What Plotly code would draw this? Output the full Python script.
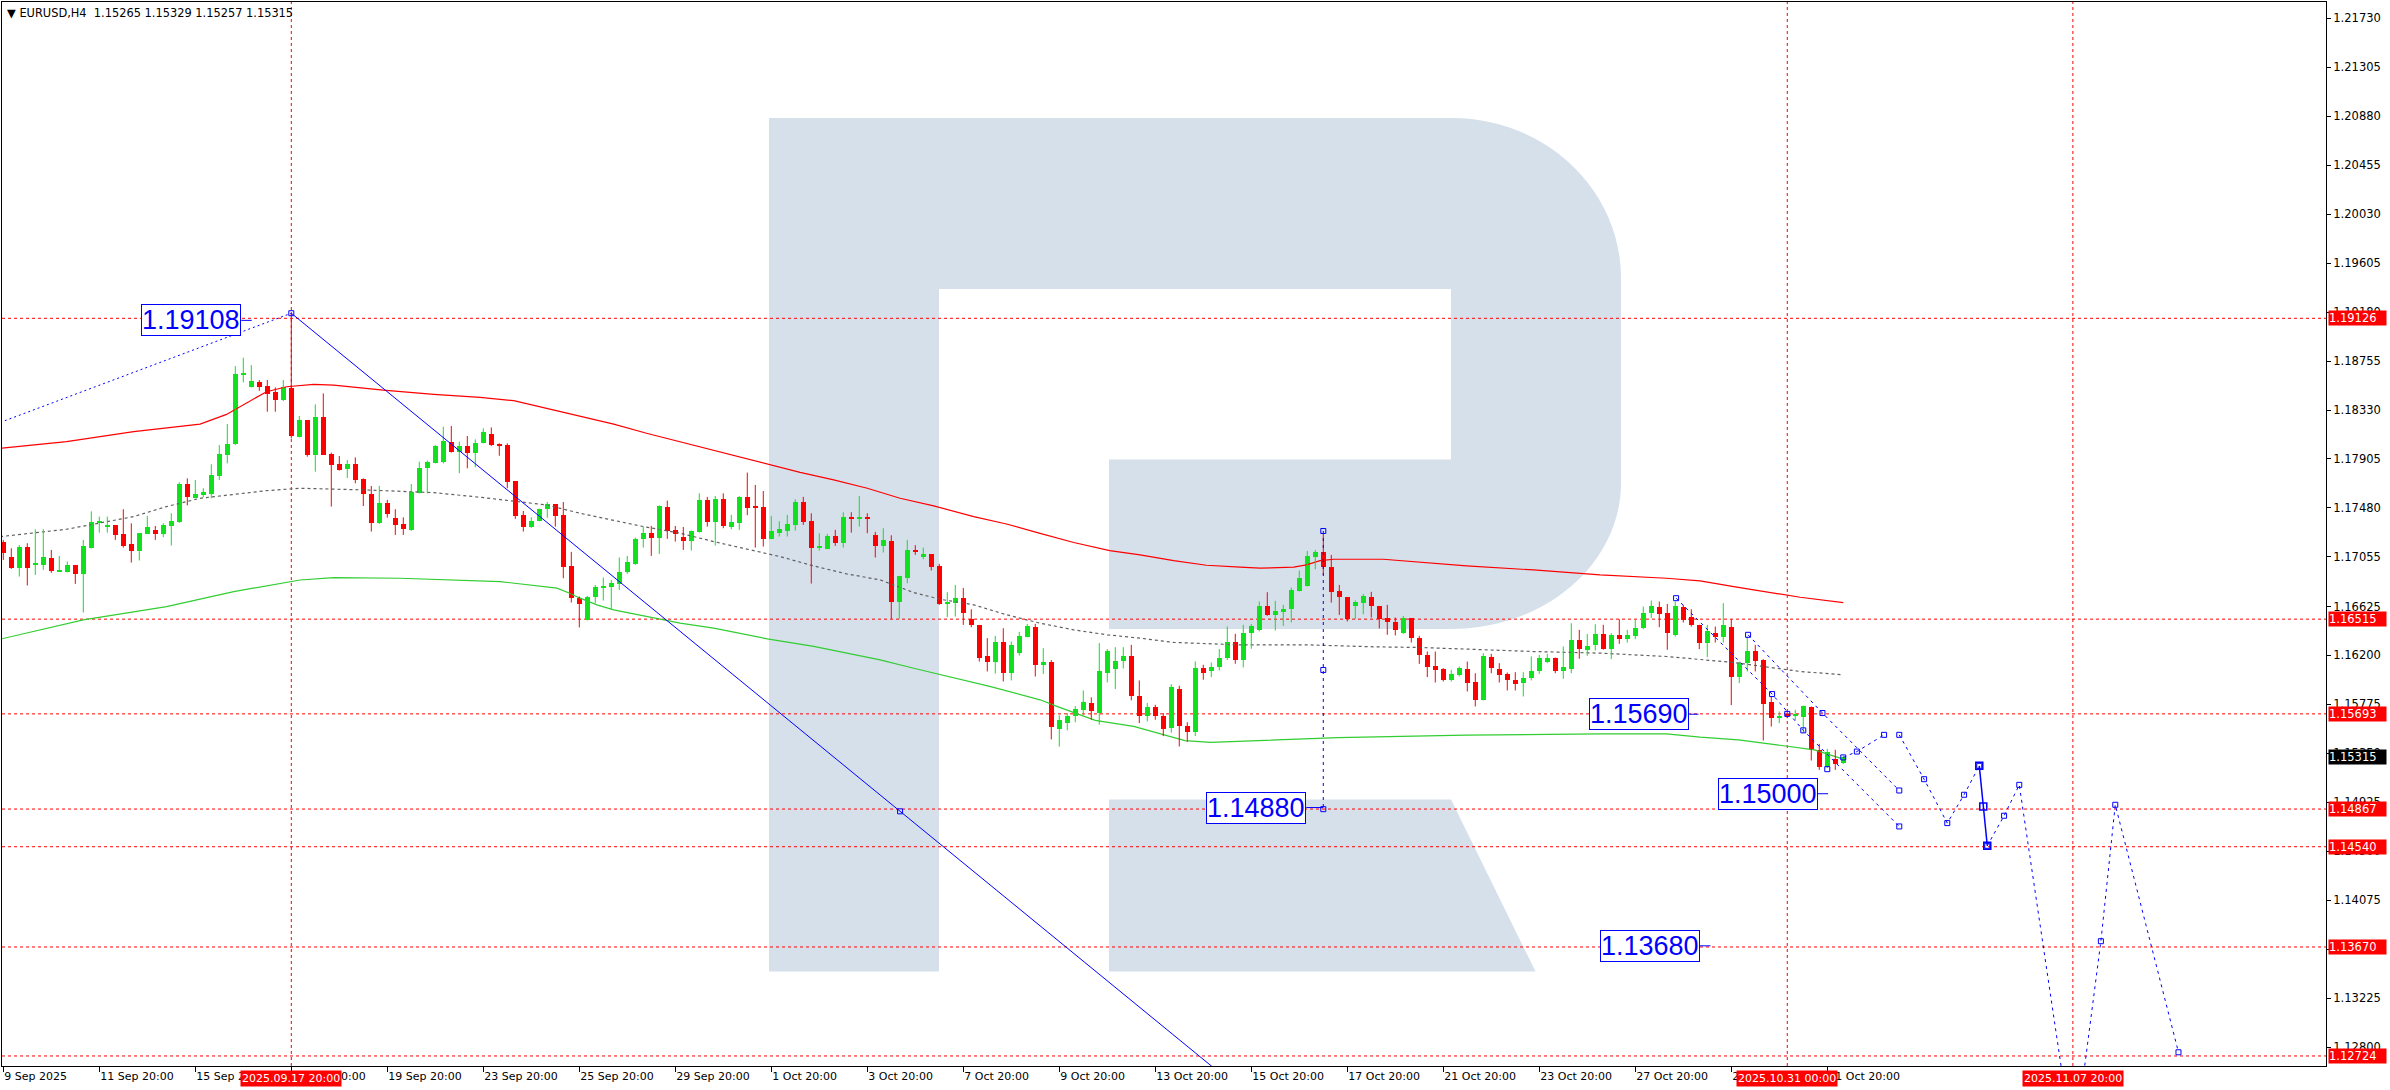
import plotly.graph_objects as go

# ---------------------------------------------------------------- data
title_text = "EURUSD,H4  1.15265 1.15329 1.15257 1.15315"

opens = [1.17182, 1.17052, 1.16963, 1.17145, 1.16983, 1.16989, 1.17046, 1.16928, 1.16925, 1.16986,
         1.16911, 1.17136, 1.17353, 1.17318, 1.17330, 1.17255, 1.17168, 1.17110, 1.17258, 1.17289,
         1.17258, 1.17327, 1.17359, 1.17688, 1.17570, 1.17596, 1.17604, 1.17761, 1.17940, 1.18035,
         1.18639, 1.18526, 1.18570, 1.18538, 1.18483, 1.18416, 1.18523, 1.18099, 1.18243, 1.17940,
         1.18266, 1.17945, 1.17859, 1.17818, 1.17859, 1.17729, 1.17602, 1.17347, 1.17521, 1.17393,
         1.17341, 1.17289, 1.17610, 1.17824, 1.17873, 1.17879, 1.18049, 1.17966, 1.18018, 1.17957,
         1.18041, 1.18125, 1.18038, 1.18026, 1.17714, 1.17417, 1.17313, 1.17370, 1.17469, 1.17515,
         1.17420, 1.16977, 1.16697, 1.16509, 1.16706, 1.16792, 1.16798, 1.16821, 1.16920, 1.16995,
         1.17209, 1.17261, 1.17223, 1.17486, 1.17290, 1.17229, 1.17197, 1.17272, 1.17550, 1.17362,
         1.17558, 1.17318, 1.17353, 1.17576, 1.17489, 1.17486, 1.17214, 1.17261, 1.17284, 1.17336,
         1.17532, 1.17365, 1.17136, 1.17128, 1.17237, 1.17174, 1.17394, 1.17388, 1.17394, 1.17243,
         1.17154, 1.17194, 1.16668, 1.16876, 1.17116, 1.17058, 1.17081, 1.16977, 1.16654, 1.16659,
         1.16699, 1.16517, 1.16465, 1.16191, 1.16139, 1.16318, 1.16046, 1.16225, 1.16364, 1.16451,
         1.16113, 1.16147, 1.15565, 1.15610, 1.15671, 1.15723, 1.15787, 1.15700, 1.16052, 1.16084,
         1.16148, 1.16197, 1.15850, 1.15677, 1.15752, 1.15671, 1.15570, 1.15911, 1.15590, 1.15540,
         1.16090, 1.16061, 1.16099, 1.16177, 1.16318, 1.16162, 1.16393, 1.16417, 1.16630, 1.16547,
         1.16581, 1.16601, 1.16763, 1.16807, 1.17058, 1.17096, 1.16966, 1.16760, 1.16705, 1.16633,
         1.16651, 1.16705, 1.16630, 1.16523, 1.16489, 1.16393, 1.16523, 1.16350, 1.16205, 1.16110,
         1.16081, 1.15983, 1.16032, 1.16081, 1.15971, 1.15815, 1.16185, 1.16081, 1.16041, 1.15989,
         1.15960, 1.16003, 1.16061, 1.16147, 1.16176, 1.16069, 1.16084, 1.16330, 1.16243, 1.16292,
         1.16385, 1.16255, 1.16376, 1.16347, 1.16370, 1.16437, 1.16567, 1.16624, 1.16567, 1.16379,
         1.16624, 1.16532, 1.16466, 1.16307, 1.16399, 1.16358, 1.16451, 1.16012, 1.16133, 1.16240,
         1.16161, 1.15794, 1.15664, 1.15693, 1.15675, 1.15670, 1.15751, 1.15381, 1.15236, 1.15303,
         1.15265]
highs = [1.17203, 1.17130, 1.17159, 1.17174, 1.17295, 1.17295, 1.17116, 1.17064, 1.17015, 1.16986,
         1.17203, 1.17451, 1.17405, 1.17405, 1.17330, 1.17469, 1.17347, 1.17260, 1.17411, 1.17324,
         1.17347, 1.17434, 1.17703, 1.17737, 1.17723, 1.17651, 1.17859, 1.18026, 1.18209, 1.18711,
         1.18784, 1.18720, 1.18590, 1.18590, 1.18526, 1.18590, 1.19179, 1.18278, 1.18243, 1.18379,
         1.18474, 1.17960, 1.17931, 1.17896, 1.17919, 1.17737, 1.17671, 1.17671, 1.17550, 1.17469,
         1.17399, 1.17688, 1.17882, 1.17891, 1.18026, 1.18185, 1.18191, 1.18055, 1.18104, 1.18075,
         1.18171, 1.18179, 1.18041, 1.18041, 1.17714, 1.17454, 1.17399, 1.17474, 1.17532, 1.17515,
         1.17532, 1.17099, 1.16712, 1.16717, 1.16812, 1.16876, 1.16856, 1.17050, 1.17064, 1.17223,
         1.17318, 1.17324, 1.17503, 1.17544, 1.17324, 1.17315, 1.17284, 1.17607, 1.17576, 1.17584,
         1.17607, 1.17420, 1.17584, 1.17787, 1.17680, 1.17627, 1.17411, 1.17365, 1.17420, 1.17555,
         1.17576, 1.17434, 1.17261, 1.17255, 1.17290, 1.17443, 1.17443, 1.17584, 1.17434, 1.17272,
         1.17304, 1.17243, 1.16891, 1.17203, 1.17157, 1.17136, 1.17081, 1.16995, 1.16749, 1.16812,
         1.16786, 1.16601, 1.16465, 1.16350, 1.16370, 1.16436, 1.16321, 1.16405, 1.16474, 1.16474,
         1.16263, 1.16160, 1.15680, 1.15700, 1.15760, 1.15896, 1.15836, 1.16307, 1.16255, 1.16272,
         1.16272, 1.16292, 1.15983, 1.15787, 1.15772, 1.15700, 1.15950, 1.15937, 1.15620, 1.16148,
         1.16119, 1.16139, 1.16255, 1.16451, 1.16388, 1.16466, 1.16474, 1.16668, 1.16749, 1.16674,
         1.16639, 1.16789, 1.16937, 1.17107, 1.17116, 1.17260, 1.17073, 1.16812, 1.16705, 1.16677,
         1.16734, 1.16752, 1.16630, 1.16639, 1.16529, 1.16543, 1.16523, 1.16370, 1.16234, 1.16234,
         1.16090, 1.16075, 1.16104, 1.16147, 1.16046, 1.16220, 1.16214, 1.16133, 1.16052, 1.16055,
         1.16055, 1.16191, 1.16205, 1.16214, 1.16182, 1.16278, 1.16480, 1.16422, 1.16387, 1.16471,
         1.16466, 1.16393, 1.16515, 1.16422, 1.16509, 1.16624, 1.16676, 1.16668, 1.16647, 1.16668,
         1.16639, 1.16601, 1.16466, 1.16466, 1.16451, 1.16653, 1.16515, 1.16147, 1.16364, 1.16292,
         1.16168, 1.15843, 1.15713, 1.15713, 1.15728, 1.15765, 1.15757, 1.15433, 1.15389, 1.15381,
         1.15329]
lows = [1.17029, 1.16951, 1.16885, 1.16807, 1.16899, 1.16943, 1.16917, 1.16925, 1.16920, 1.16821,
        1.16573, 1.17128, 1.17266, 1.17266, 1.17203, 1.17136, 1.17006, 1.17024, 1.17255, 1.17203,
        1.17226, 1.17154, 1.17350, 1.17503, 1.17564, 1.17573, 1.17564, 1.17723, 1.17867, 1.18026,
        1.18570, 1.18526, 1.18497, 1.18315, 1.18315, 1.18408, 1.18084, 1.18093, 1.17925, 1.17795,
        1.17940, 1.17492, 1.17804, 1.17740, 1.17694, 1.17497, 1.17275, 1.17341, 1.17396, 1.17246,
        1.17246, 1.17281, 1.17607, 1.17607, 1.17867, 1.17867, 1.17960, 1.17781, 1.17824, 1.17833,
        1.18041, 1.18018, 1.17933, 1.17651, 1.17385, 1.17275, 1.17307, 1.17365, 1.17394, 1.17318,
        1.16870, 1.16659, 1.16443, 1.16503, 1.16654, 1.16677, 1.16602, 1.16769, 1.16908, 1.16986,
        1.17136, 1.17064, 1.17081, 1.17212, 1.17188, 1.17116, 1.17110, 1.17266, 1.17318, 1.17154,
        1.17304, 1.17295, 1.17290, 1.17417, 1.17136, 1.17145, 1.17209, 1.17232, 1.17232, 1.17284,
        1.17333, 1.16824, 1.17110, 1.17122, 1.17151, 1.17136, 1.17266, 1.17318, 1.17261, 1.17050,
        1.17093, 1.16518, 1.16518, 1.16827, 1.17073, 1.17035, 1.16937, 1.16639, 1.16532, 1.16538,
        1.16465, 1.16445, 1.16147, 1.16061, 1.16043, 1.15974, 1.15983, 1.16199, 1.16358, 1.16017,
        1.16040, 1.15471, 1.15409, 1.15550, 1.15620, 1.15685, 1.15642, 1.15599, 1.15966, 1.15908,
        1.16087, 1.15810, 1.15613, 1.15627, 1.15642, 1.15500, 1.15530, 1.15410, 1.15450, 1.15500,
        1.15989, 1.16012, 1.16070, 1.16162, 1.16128, 1.16096, 1.16258, 1.16408, 1.16544, 1.16417,
        1.16457, 1.16486, 1.16755, 1.16798, 1.16948, 1.16899, 1.16659, 1.16552, 1.16495, 1.16515,
        1.16558, 1.16529, 1.16434, 1.16379, 1.16373, 1.16387, 1.16312, 1.16127, 1.16012, 1.15965,
        1.15974, 1.15974, 1.16018, 1.15887, 1.15757, 1.15809, 1.16046, 1.15965, 1.15896, 1.15896,
        1.15844, 1.15983, 1.16041, 1.16133, 1.16046, 1.15997, 1.16046, 1.16171, 1.16197, 1.16243,
        1.16249, 1.16168, 1.16301, 1.16312, 1.16341, 1.16428, 1.16523, 1.16445, 1.16249, 1.16364,
        1.16486, 1.16451, 1.16255, 1.16185, 1.16312, 1.16312, 1.15769, 1.15960, 1.16061, 1.16061,
        1.15462, 1.15583, 1.15612, 1.15655, 1.15641, 1.15525, 1.15288, 1.15207, 1.15222, 1.15207,
        1.15257]
closes = [1.17087, 1.16963, 1.17145, 1.16963, 1.17006, 1.17052, 1.16931, 1.16937, 1.16986, 1.16911,
          1.17151, 1.17359, 1.17359, 1.17324, 1.17249, 1.17154, 1.17110, 1.17260, 1.17315, 1.17255,
          1.17336, 1.17367, 1.17688, 1.17573, 1.17602, 1.17616, 1.17766, 1.17948, 1.18035, 1.18642,
          1.18648, 1.18581, 1.18532, 1.18468, 1.18416, 1.18526, 1.18107, 1.18243, 1.17940, 1.18266,
          1.17940, 1.17856, 1.17810, 1.17859, 1.17723, 1.17602, 1.17353, 1.17521, 1.17425, 1.17333,
          1.17295, 1.17616, 1.17824, 1.17879, 1.18015, 1.18061, 1.17966, 1.18018, 1.17957, 1.18041,
          1.18139, 1.18026, 1.18023, 1.17709, 1.17414, 1.17318, 1.17365, 1.17469, 1.17515, 1.17414,
          1.16971, 1.16697, 1.16645, 1.16709, 1.16792, 1.16804, 1.16833, 1.16925, 1.17015, 1.17214,
          1.17266, 1.17223, 1.17498, 1.17284, 1.17255, 1.17194, 1.17278, 1.17550, 1.17362, 1.17558,
          1.17324, 1.17356, 1.17576, 1.17483, 1.17483, 1.17214, 1.17278, 1.17298, 1.17341, 1.17532,
          1.17362, 1.17136, 1.17148, 1.17237, 1.17174, 1.17399, 1.17388, 1.17394, 1.17388, 1.17154,
          1.17203, 1.16668, 1.16891, 1.17116, 1.17096, 1.17081, 1.16971, 1.16648, 1.16665, 1.16697,
          1.16572, 1.16460, 1.16182, 1.16139, 1.16318, 1.16046, 1.16292, 1.16370, 1.16457, 1.16113,
          1.16147, 1.15575, 1.15638, 1.15677, 1.15735, 1.15792, 1.15714, 1.16061, 1.16240, 1.16153,
          1.16197, 1.15844, 1.15677, 1.15752, 1.15671, 1.15560, 1.15922, 1.15590, 1.15540, 1.16090,
          1.16052, 1.16099, 1.16177, 1.16318, 1.16162, 1.16393, 1.16457, 1.16630, 1.16552, 1.16587,
          1.16604, 1.16769, 1.16873, 1.17064, 1.17096, 1.16966, 1.16755, 1.16705, 1.16518, 1.16665,
          1.16717, 1.16625, 1.16518, 1.16486, 1.16422, 1.16523, 1.16350, 1.16200, 1.16104, 1.16075,
          1.15989, 1.16041, 1.16090, 1.15965, 1.15815, 1.16197, 1.16090, 1.16032, 1.15983, 1.15954,
          1.16003, 1.16067, 1.16176, 1.16176, 1.16069, 1.16098, 1.16330, 1.16255, 1.16278, 1.16385,
          1.16255, 1.16376, 1.16347, 1.16376, 1.16437, 1.16567, 1.16630, 1.16561, 1.16393, 1.16630,
          1.16509, 1.16466, 1.16307, 1.16416, 1.16358, 1.16466, 1.16012, 1.16133, 1.16240, 1.16156,
          1.15780, 1.15655, 1.15675, 1.15675, 1.15681, 1.15762, 1.15381, 1.15236, 1.15360, 1.15259,
          1.15315]

# channel lines (sampled along the indicator curves: bar index, price)
upper_bars = [-0.4, 7.9, 16.3, 24.6, 27.9, 30.4, 32.9, 35.4, 38.8, 41.3, 47.5, 53.8, 59.6, 63.8,
              67.9, 72.1, 76.3, 80.4, 84.6, 88.8, 92.9, 95.5, 99.6, 103.8, 108, 112.1, 116.3,
              121.3, 125.4, 129.6, 133.8, 138.3, 142.1, 146.3, 150.4, 154.6, 157.1, 161.3, 162.9,
              164.6, 166.3, 172.5, 177.1, 182.9, 191.3, 199.6, 207.9, 212.1, 216.3, 220.5, 224.6, 230]
upper_vals = [1.17997, 1.18055, 1.18142, 1.18208, 1.18292, 1.18393, 1.18489, 1.18532, 1.18552,
              1.18546, 1.18503, 1.18466, 1.18440, 1.18411, 1.18344, 1.18272, 1.18208, 1.18128,
              1.18055, 1.17977, 1.17911, 1.17862, 1.17789, 1.17723, 1.17651, 1.17564, 1.17498,
              1.17405, 1.17341, 1.17260, 1.17180, 1.17110, 1.17073, 1.17023, 1.16983, 1.16966,
              1.16957, 1.16966, 1.16986, 1.17023, 1.17035, 1.17035, 1.17009, 1.16977, 1.16942,
              1.16899, 1.16870, 1.16847, 1.16798, 1.16749, 1.16705, 1.16659]
mid_bars = [-0.4, 7.9, 16.3, 20.4, 24.6, 28.8, 32.9, 37.1, 45.4, 53.8, 59.6, 67.9, 72.1, 79.6,
            84.6, 88.8, 92.9, 97.1, 101.3, 105.4, 109.6, 113.8, 117.1, 121.3, 125.4, 129.6, 133.8,
            138, 142.1, 146.3, 154.6, 162.9, 171.3, 177.1, 182.9, 191.3, 199.6, 207.9, 216.3,
            220.5, 224.6, 230]
mid_vals = [1.17231, 1.17295, 1.17405, 1.17492, 1.17564, 1.17599, 1.17630, 1.17651, 1.17636,
            1.17613, 1.17573, 1.17506, 1.17434, 1.17324, 1.17261, 1.17188, 1.17122, 1.17058,
            1.16977, 1.16908, 1.16856, 1.16746, 1.16688, 1.16639, 1.16553, 1.16480, 1.16422,
            1.16379, 1.16350, 1.16313, 1.16292, 1.16292, 1.16275, 1.16269, 1.16255, 1.16234,
            1.16220, 1.16191, 1.16139, 1.16098, 1.16061, 1.16032]
lower_bars = [-0.4, 10, 20.4, 28.8, 37.1, 41.3, 49.6, 57.9, 62.1, 69.2, 70.8, 72.1, 74.2, 76.3,
              80.4, 84.6, 88.8, 92.9, 95.5, 101.3, 105.4, 109.6, 113.8, 119.6, 123.3, 129.6, 131.7,
              136.5, 141.3, 147.7, 150.9, 166.8, 182.8, 199.6, 207.9, 212.1, 216.9, 221.7, 226.4, 230]
lower_vals = [1.16341, 1.16509, 1.16624, 1.16754, 1.16855, 1.16876, 1.16870, 1.16855, 1.16841,
              1.16784, 1.16740, 1.16697, 1.16639, 1.16596, 1.16538, 1.16480, 1.16437, 1.16379,
              1.16344, 1.16278, 1.16220, 1.16162, 1.16089, 1.15995, 1.15931, 1.15815, 1.15758,
              1.15637, 1.15585, 1.15461, 1.15445, 1.15487, 1.15508, 1.15520, 1.15520, 1.15491,
              1.15467, 1.15424, 1.15381, 1.15300]

# horizontal levels with red price tags, and the current price tag
level_prices = [1.19126, 1.16515, 1.15693, 1.14867, 1.14540, 1.13670, 1.12724]
current_price = 1.15315

# vertical time lines (bar index) with their tags
vline_bars = [36, 223, 258.7]
vline_labels = ["2025.09.17 20:00", "2025.10.31 00:00", "2025.11.07 20:00"]

# time axis (one label every 12 H4 bars)
xtick_bars = [0, 12, 24, 36, 48, 60, 72, 84, 96, 108, 120, 132, 144, 156, 168, 180, 192, 204, 216, 228]
xtick_labels = ["9 Sep 2025", "11 Sep 20:00", "15 Sep 20:00", "17 Sep 20:00", "19 Sep 20:00",
                "23 Sep 20:00", "25 Sep 20:00", "29 Sep 20:00", "1 Oct 20:00", "3 Oct 20:00",
                "7 Oct 20:00", "9 Oct 20:00", "13 Oct 20:00", "15 Oct 20:00", "17 Oct 20:00",
                "21 Oct 20:00", "23 Oct 20:00", "27 Oct 20:00", "29 Oct 20:00", "31 Oct 20:00"]

# price axis
ytick_vals = [1.21730, 1.21305, 1.20880, 1.20455, 1.20030, 1.19605, 1.19180, 1.18755, 1.18330,
              1.17905, 1.17480, 1.17055, 1.16625, 1.16200, 1.15775, 1.15350, 1.14925, 1.14500,
              1.14075, 1.13650, 1.13225, 1.12800]
ytick_text = ["1.21730", "1.21305", "1.20880", "1.20455", "1.20030", "1.19605", "1.19180",
              "1.18755", "1.18330", "1.17905", "1.17480", "1.17055", "1.16625", "1.16200",
              "1.15775", "1.15350", "1.14925", "1.14500", "1.14075", "1.13650", "1.13225", "1.12800"]

# analyst drawings
rise_bars = [-0.4, 36]
rise_vals = [1.18222, 1.19170]
fall_bars = [36, 112.1, 152]
fall_vals = [1.19170, 1.14847, 1.12581]
spike_bars = [165, 165, 165]
spike_vals = [1.17280, 1.16074, 1.14866]
chan_up_bars = [218.1, 227.4, 237.0]
chan_up_vals = [1.16379, 1.15700, 1.15028]
chan_lo_bars = [209.1, 221.1, 225.0, 237.0]
chan_lo_vals = [1.16697, 1.15865, 1.15550, 1.14716]
path_a_bars = [230, 231.7, 235.1]
path_a_vals = [1.15315, 1.15366, 1.15511]
path_b_bars = [237.0, 240.1, 243.0, 245.1, 247.0]
path_b_vals = [1.15511, 1.15126, 1.14745, 1.14991, 1.15242]
path_solid_bars = [247.0, 247.5, 248.0]
path_solid_vals = [1.15242, 1.14889, 1.14548]
path_c_bars = [248.0, 250.1, 252.0, 258.8, 262.2, 264.0, 271.9]
path_c_vals = [1.14548, 1.14809, 1.15077, 1.11900, 1.13720, 1.14904, 1.12756]
extra_pt_bars = [36, 112.1, 223, 228.0]
extra_pt_vals = [1.19170, 1.14847, 1.15693, 1.15213]

target_texts = ["1.19108", "1.14880", "1.15690", "1.15000", "1.13680"]
target_prices = [1.19108, 1.14880, 1.15690, 1.15000, 1.13680]
target_bars = [31.05, 165.0, 211.9, 228.1, 213.4]

# ---------------------------------------------------------------- style
W, H = 2390, 1090
ML, MR, MT, MB = 2, 64, 2, 24
FONT = "DejaVu Sans"
BULL = "#12e01e"
BEAR = "#ff0000"
BLUE = "#0000ff"
LOGO = "#d6e0eb"
X_RANGE = [-0.1625, 290.34]
Y_RANGE = [1.12637, 1.21871]

fig = go.Figure()

# channel indicator lines
fig.add_trace(go.Scatter(x=upper_bars, y=upper_vals, mode="lines",
                         line=dict(color="#ff0000", width=1.2), hoverinfo="skip"))
fig.add_trace(go.Scatter(x=mid_bars, y=mid_vals, mode="lines",
                         line=dict(color="#606060", width=1.2, dash="3px,3px"), hoverinfo="skip"))
fig.add_trace(go.Scatter(x=lower_bars, y=lower_vals, mode="lines",
                         line=dict(color="#32cd32", width=1.2), hoverinfo="skip"))

# candles: wicks + bodies
def wick_xy(sel):
    xs, ys = [], []
    for i in sel:
        xs += [i, i, None]
        ys += [lows[i], highs[i], None]
    return xs, ys

bull_idx = [i for i in range(len(opens)) if closes[i] > opens[i]]
bear_idx = [i for i in range(len(opens)) if closes[i] <= opens[i]]
for sel, col in ((bull_idx, BULL), (bear_idx, BEAR)):
    wx, wy = wick_xy(sel)
    fig.add_trace(go.Scatter(x=wx, y=wy, mode="lines", line=dict(color=col, width=1),
                             hoverinfo="skip"))
    fig.add_trace(go.Bar(x=sel,
                         base=[min(opens[i], closes[i]) for i in sel],
                         y=[max(abs(closes[i] - opens[i]), 0.00009) for i in sel],
                         width=0.66, marker=dict(color=col, line=dict(width=0)),
                         hoverinfo="skip"))

# blue analysis lines
fig.add_trace(go.Scatter(x=rise_bars, y=rise_vals, mode="lines",
                         line=dict(color=BLUE, width=1, dash="2px,3px"), hoverinfo="skip"))
fig.add_trace(go.Scatter(x=fall_bars, y=fall_vals, mode="lines",
                         line=dict(color=BLUE, width=1), hoverinfo="skip"))
for bx, by in ((spike_bars, spike_vals), (chan_up_bars, chan_up_vals), (chan_lo_bars, chan_lo_vals),
               (path_a_bars, path_a_vals), (path_b_bars, path_b_vals), (path_c_bars, path_c_vals)):
    fig.add_trace(go.Scatter(x=bx, y=by, mode="lines+markers",
                             line=dict(color=BLUE, width=1, dash="3px,4px"),
                             marker=dict(symbol="square-open", size=5, color=BLUE,
                                         line=dict(width=1, color=BLUE)),
                             hoverinfo="skip"))
fig.add_trace(go.Scatter(x=path_solid_bars, y=path_solid_vals, mode="lines+markers",
                         line=dict(color=BLUE, width=1.5),
                         marker=dict(symbol="square-open", size=7, color=BLUE,
                                     line=dict(width=1.5, color=BLUE)),
                         hoverinfo="skip"))
fig.add_trace(go.Scatter(x=extra_pt_bars, y=extra_pt_vals, mode="markers",
                         marker=dict(symbol="square-open", size=5, color=BLUE,
                                     line=dict(width=1, color=BLUE)),
                         hoverinfo="skip"))

# ---------------------------------------------------------------- shapes
def px(x):
    return (x - ML) / (W - ML - MR)

def py(y):
    return (H - MB - y) / (H - MT - MB)

def path(cmds):
    out = []
    for c in cmds:
        op, pts = c[0], c[1:]
        out.append(op + " ".join(f"{px(a):.5f},{py(b):.5f}" for a, b in pts))
    return " ".join(out) + " Z"

k = 0.5523
r_outline = path([
    ("M", (769, 118)), ("L", (1452, 118)),
    ("C", (1452 + k * 169, 118), (1621, 278 - k * 160), (1621, 278)),
    ("L", (1621, 483)),
    ("C", (1621, 483 + k * 146), (1451 + k * 170, 629), (1451, 629)),
    ("L", (1109, 629)), ("L", (1109, 459.5)), ("L", (1451, 459.5)), ("L", (1451, 289)),
    ("L", (939, 289)), ("L", (939, 971.5)), ("L", (769, 971.5)),
])
r_leg = path([("M", (1109, 799.4)), ("L", (1451, 799.4)), ("L", (1535.5, 971.5)),
              ("L", (1109, 971.5))])

shapes = [
    dict(type="path", path=r_outline, xref="paper", yref="paper", fillcolor=LOGO,
         line=dict(width=0), layer="below"),
    dict(type="path", path=r_leg, xref="paper", yref="paper", fillcolor=LOGO,
         line=dict(width=0), layer="below"),
]
for p in level_prices:
    shapes.append(dict(type="line", xref="paper", x0=0, x1=1, yref="y", y0=p, y1=p,
                       line=dict(color="#ff0000", width=1, dash="3px,3px"), layer="below"))
for b in vline_bars:
    shapes.append(dict(type="line", xref="x", x0=b, x1=b, yref="paper", y0=0, y1=1,
                       line=dict(color="#ff0000", width=1, dash="3px,3px"), layer="below"))

# ---------------------------------------------------------------- annotations
ann = []
ann.append(dict(xref="paper", yref="paper", x=0, y=1, xanchor="left", yanchor="top",
                xshift=3, yshift=-2, showarrow=False, text="\u25BC " + title_text,
                font=dict(family=FONT, size=11.4, color="#000000")))
for p in level_prices:
    ann.append(dict(xref="paper", x=1, xanchor="left", yref="y", y=p, yanchor="middle",
                    text=f"{p:.5f}", showarrow=False, bgcolor="#ff0000", width=57, height=14,
                    align="left", borderpad=0, xshift=2,
                    font=dict(family=FONT, size=11.5, color="#ffffff")))
ann.append(dict(xref="paper", x=1, xanchor="left", yref="y", y=current_price, yanchor="middle",
                text=f"{current_price:.5f}", showarrow=False, bgcolor="#000000", width=57,
                height=14, align="left", borderpad=0, xshift=2,
                font=dict(family=FONT, size=11.5, color="#ffffff")))
for b, t in zip(vline_bars, vline_labels):
    ann.append(dict(xref="x", x=b, yref="paper", y=0, yanchor="top", xanchor="center",
                    yshift=-4, text=t, showarrow=False, bgcolor="#ff0000", borderpad=1,
                    font=dict(family=FONT, size=11, color="#ffffff")))
tick_len = [-10.4, -17, -9, -10.5, -10.7]
for t, p, b, ax in zip(target_texts, target_prices, target_bars, tick_len):
    ann.append(dict(xref="x", x=b, yref="y", y=p, text=t, showarrow=True, arrowhead=0,
                    arrowwidth=1, arrowcolor=BLUE, ax=ax, ay=0, axref="pixel", ayref="pixel",
                    xanchor="right", yanchor="middle", standoff=0, startstandoff=0,
                    bgcolor="#ffffff", bordercolor=BLUE, borderwidth=1, borderpad=0,
                    font=dict(family="Liberation Sans", size=27, color=BLUE)))

fig.update_layout(
    width=W, height=H, margin=dict(l=ML, r=MR, t=MT, b=MB, pad=0),
    paper_bgcolor="#ffffff", plot_bgcolor="#ffffff",
    showlegend=False, barmode="overlay", bargap=0,
    font=dict(family=FONT, size=11, color="#000000"),
    shapes=shapes, annotations=ann, hovermode=False,
    xaxis=dict(range=X_RANGE, showgrid=False, zeroline=False, showline=True, mirror=True,
               linecolor="#000000", linewidth=1, ticks="outside", ticklen=5, tickcolor="#000000",
               tickvals=xtick_bars, ticktext=xtick_labels, ticklabelposition="outside right",
               tickfont=dict(family=FONT, size=11, color="#000000"), fixedrange=True),
    yaxis=dict(range=Y_RANGE, side="right", showgrid=False, zeroline=False, showline=True,
               mirror=True, linecolor="#000000", linewidth=1, ticks="outside", ticklen=4,
               tickcolor="#000000", tickvals=ytick_vals, ticktext=ytick_text,
               tickfont=dict(family=FONT, size=11.5, color="#000000"), fixedrange=True),
)

fig.write_html("out.html", config={"displayModeBar": False},
               post_script="document.body.style.margin='0';document.body.style.overflow='hidden';")
